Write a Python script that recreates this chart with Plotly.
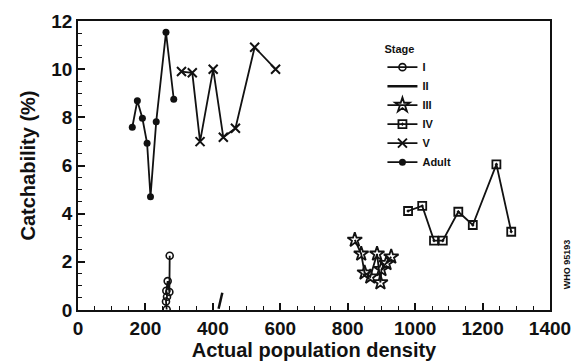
import plotly.graph_objects as go

# ---- data ----
stage_I_x = [263, 261, 264, 262, 266, 271, 272]
stage_I_y = [0.02, 0.35, 0.55, 0.8, 1.2, 0.75, 2.25]

stage_II_x = [417, 421, 425, 428]
stage_II_y = [0.05, 0.3, 0.5, 0.72]

stage_III_x = [821, 840, 850, 867, 887, 897, 900, 915, 929]
stage_III_y = [2.91, 2.33, 1.55, 1.38, 2.33, 1.14, 1.69, 1.94, 2.21]

stage_IV_x = [979, 1021, 1056, 1082, 1128, 1171, 1241, 1285]
stage_IV_y = [4.11, 4.32, 2.88, 2.88, 4.08, 3.53, 6.05, 3.25]

stage_V_x = [307, 339, 362, 401, 431, 467, 524, 586]
stage_V_y = [9.90, 9.85, 6.99, 10.0, 7.17, 7.55, 10.91, 10.0]

adult_x = [161, 176, 191, 205, 215, 232, 261, 284]
adult_y = [7.59, 8.69, 7.96, 6.92, 4.70, 7.82, 11.53, 8.75]

x_ticks = [0, 200, 400, 600, 800, 1000, 1200, 1400]
y_ticks = [0, 2, 4, 6, 8, 10, 12]

FONT = "Liberation Sans, Arial, sans-serif"
BLACK = "#111111"

fig = go.Figure()
line = dict(color=BLACK, width=1.8)

fig.add_trace(go.Scatter(x=stage_I_x, y=stage_I_y, name="I", mode="lines+markers",
                         line=line,
                         marker=dict(symbol="circle-open", size=7, color=BLACK,
                                     line=dict(width=1.6, color=BLACK))))
fig.add_trace(go.Scatter(x=stage_II_x, y=stage_II_y, name="II", mode="lines",
                         line=dict(color=BLACK, width=2.5)))
fig.add_trace(go.Scatter(x=stage_III_x, y=stage_III_y, name="III", mode="lines+markers",
                         line=line,
                         marker=dict(symbol="star-open", size=11, color=BLACK,
                                     line=dict(width=1.8, color=BLACK))))
fig.add_trace(go.Scatter(x=stage_IV_x, y=stage_IV_y, name="IV", mode="lines+markers",
                         line=line,
                         marker=dict(symbol="square-open-dot", size=8, color=BLACK,
                                     line=dict(width=1.8, color=BLACK))))
fig.add_trace(go.Scatter(x=stage_V_x, y=stage_V_y, name="V", mode="lines+markers",
                         line=line,
                         marker=dict(symbol="x-thin-open", size=9, color=BLACK,
                                     line=dict(width=2, color=BLACK))))
fig.add_trace(go.Scatter(x=adult_x, y=adult_y, name="Adult", mode="lines+markers",
                         line=line,
                         marker=dict(symbol="circle", size=7, color=BLACK)))

fig.update_layout(
    width=573, height=361,
    margin=dict(l=78, r=23, t=21, b=51),
    paper_bgcolor="white", plot_bgcolor="white",
    font=dict(family=FONT, color=BLACK, weight="bold"),
    showlegend=True,
    legend=dict(
        title=dict(text="Stage", font=dict(size=11, family=FONT, weight="bold"), side="top"),
        font=dict(size=11, family=FONT, weight="bold"),
        x=0.645, y=0.94, xanchor="left", yanchor="top",
        bgcolor="rgba(0,0,0,0)", itemwidth=30, tracegroupgap=0,
    ),
    xaxis=dict(
        range=[0, 1400], tickvals=x_ticks, ticktext=[str(v) for v in x_ticks],
        showgrid=False, zeroline=False, showline=True, linecolor=BLACK, linewidth=1.8,
        mirror=True, ticks="inside", ticklen=7, tickwidth=1.5, tickcolor=BLACK,
        minor=dict(dtick=50, ticks="inside", ticklen=4, tickwidth=1.2, tickcolor=BLACK),
        tickfont=dict(size=19, family=FONT, weight="bold"),
        automargin=False,
        title=dict(text="Actual population density", standoff=3,
                   font=dict(size=20, family=FONT, weight="bold")),
    ),
    yaxis=dict(
        range=[0, 12], tickvals=y_ticks, ticktext=[str(v) for v in y_ticks],
        showgrid=False, zeroline=False, showline=True, linecolor=BLACK, linewidth=1.8,
        mirror=True, ticks="inside", ticklen=7, tickwidth=1.5, tickcolor=BLACK,
        minor=dict(dtick=0.5, ticks="inside", ticklen=4, tickwidth=1.2, tickcolor=BLACK),
        tickfont=dict(size=19, family=FONT, weight="bold"),
        automargin=False,
        title=dict(text="Catchability (%)", standoff=10,
                   font=dict(size=20, family=FONT, weight="bold")),
    ),
    annotations=[dict(text="WHO 95193", textangle=-90, xref="paper", yref="paper",
                      x=1.02, y=0.16, xanchor="left", yanchor="middle", showarrow=False,
                      font=dict(size=9, family=FONT, weight="bold"))],
)

fig.write_html("out.html")
